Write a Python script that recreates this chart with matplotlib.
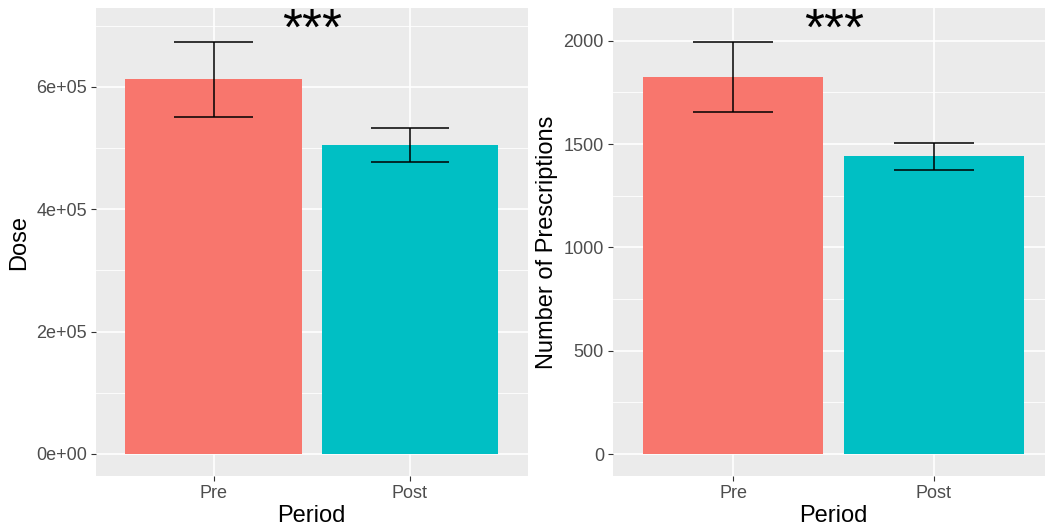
import matplotlib
matplotlib.use("Agg")
import matplotlib.pyplot as plt
import matplotlib.transforms as mtransforms
from matplotlib.textpath import TextPath
from matplotlib.font_manager import FontProperties
import numpy as np

periods = ["Pre", "Post"]
colors = ["#F8766D", "#00BFC4"]

dose_mean = [6.13e5, 5.05e5]
dose_lo = [5.51e5, 4.78e5]
dose_hi = [6.74e5, 5.33e5]
dose_star_y = 7.12e5

rx_mean = [1824, 1443]
rx_lo = [1655, 1376]
rx_hi = [1995, 1506]
rx_star_y = 2108

plt.rcParams['font.family'] = ['Liberation Sans', 'DejaVu Sans']

W, H = 1045, 527
fig = plt.figure(figsize=(W / 100, H / 100), dpi=100)
ax1 = fig.add_axes([96 / W, 1 - 476 / H, 431.5 / W, 468 / H])
ax2 = fig.add_axes([613 / W, 1 - 476 / H, 441 / W, 468 / H])

# measure the ink of "***" to size and centre it like the reference
fp = FontProperties(family="Liberation Sans")
bb = TextPath((0, 0), "***", size=10, prop=fp).get_extents()
star_size = 10 * (58 * 0.72) / bb.width          # ink width ~58 px
ink_mid_pts = (bb.y0 + bb.y1) / 2 * star_size / 10
ink_x_mid_pts = (bb.x0 + bb.x1) / 2 * star_size / 10
adv_pts = None


def panel(ax, mean, lo, hi, star_y, ylim, major, minor, fmt, ylabel):
    ax.set_facecolor("#EBEBEB")
    for s in ax.spines.values():
        s.set_visible(False)
    x = np.arange(len(periods))
    ax.set_xlim(-0.6, len(periods) - 0.4)
    ax.set_ylim(*ylim)
    for m in minor:
        ax.axhline(m, color="white", lw=0.6, zorder=0)
    for m in major:
        ax.axhline(m, color="white", lw=1.2, zorder=0)
    for xi in x:
        ax.axvline(xi, color="white", lw=1.2, zorder=0)
    ax.bar(x, mean, width=0.9, color=colors, zorder=2)
    m = np.array(mean)
    yerr = np.array([m - np.array(lo), np.array(hi) - m])
    ax.errorbar(x, mean, yerr=yerr, fmt="none", ecolor="black", elinewidth=1.1,
                capsize=0, zorder=3)
    for xi, l, h in zip(x, lo, hi):
        ax.hlines([l, h], xi - 0.2, xi + 0.2, color="black", lw=1.1, zorder=3)
    tr = ax.transData + mtransforms.ScaledTranslation(
        -ink_x_mid_pts / 72, -ink_mid_pts / 72, fig.dpi_scale_trans)
    ax.text(0.5, star_y, "***", ha="left", va="baseline", fontsize=star_size,
            color="black", clip_on=False, transform=tr, fontproperties=None)
    ax.set_xticks(x)
    ax.set_xticklabels(periods)
    ax.set_yticks(major)
    ax.set_yticklabels([fmt(v) for v in major])
    ax.tick_params(axis="both", colors="#333333", labelcolor="#4D4D4D",
                   labelsize=13, length=3.5, width=0.8, pad=3)
    ax.set_xlabel("Period", fontsize=17, color="black", labelpad=2)
    ax.set_ylabel(ylabel, fontsize=17, color="black", labelpad=4)


panel(ax1, dose_mean, dose_lo, dose_hi, dose_star_y, (-0.36e5, 7.29e5),
      [0, 2e5, 4e5, 6e5], [1e5, 3e5, 5e5, 7e5],
      lambda v: "0e+00" if v == 0 else "%de+05" % int(round(v / 1e5)), "Dose")
panel(ax2, rx_mean, rx_lo, rx_hi, rx_star_y, (-106, 2158),
      [0, 500, 1000, 1500, 2000], [250, 750, 1250, 1750],
      lambda v: "%d" % v, "Number of Prescriptions")

fig.savefig("out.png", dpi=100)
